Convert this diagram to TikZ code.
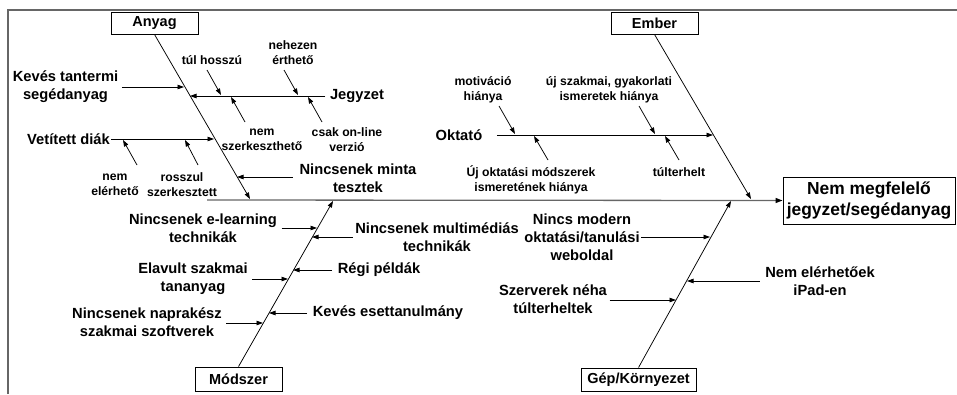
\documentclass[tikz,border=0pt]{standalone}
\usepackage{fontspec}
\setmainfont{Liberation Sans}
\usetikzlibrary{arrows.meta}
\tikzset{
  catbox/.style={draw=black, line width=0.9pt, fill=white, inner sep=0pt,
    font=\bfseries\fontsize{14.5}{17}\selectfont},
  effbox/.style={draw=black, line width=0.9pt, inner sep=0pt, align=center,
    font=\bfseries\fontsize{17.4}{21}\selectfont},
  big/.style={align=center, inner sep=1.5pt, font=\bfseries\fontsize{14.7}{18}\selectfont},
  small/.style={align=center, inner sep=1pt, font=\bfseries\fontsize{12.2}{15}\selectfont},
  arr/.style={line width=0.75pt, -{Triangle[length=6.5pt,width=4.5pt]}},
  bone/.style={line width=0.75pt, -{Triangle[length=6.5pt,width=4.5pt]}},
  spine/.style={line width=1.3pt, draw=black!60, -{Triangle[length=7pt,width=5pt,color=black]}},
  framel/.style={line width=1.8pt, draw=black!60}
}
\begin{document}
\begin{tikzpicture}[x=1pt,y=-1pt]
\useasboundingbox (0,0) rectangle (957,394);
% frame
\draw[framel] (8,394) -- (8,10) -- (957,10);

% category boxes
\node[catbox, minimum width=87pt, minimum height=22pt] (anyag) at (154.5,23) {Anyag};
\node[catbox, minimum width=87pt, minimum height=22pt] (ember) at (654.5,23) {Ember};
\node[catbox, minimum width=87pt, minimum height=24pt] (modszer) at (238.5,379) {Módszer};
\node[catbox, minimum width=115pt, minimum height=23pt] (gep) at (638.5,379.5) {Gép/Környezet};
\node[effbox, minimum width=172pt, minimum height=47pt] (eff) at (869,200.5) {Nem megfelelő\\jegyzet/segédanyag};

% spine
\coordinate (s0) at (207,200);
\draw[spine] (s0) -- (eff.west);

% bone ends on spine
\coordinate (A0) at (250,199);
\coordinate (E0) at (751,199);
\coordinate (M0) at (333,201);
\coordinate (G0) at (731,201);
\draw[bone] (anyag.south) -- (A0);
\draw[bone] (ember.south) -- (E0);
\draw[bone] (modszer.north) -- (M0);
\draw[bone] (gep.north) -- (G0);

% ---------- Anyag ----------
\coordinate (a1) at (184,87);
\coordinate (a2) at (190,96);
\coordinate (a3) at (214,139);
\coordinate (a4) at (237,177);
\node[big] (kev) at (65.5,87) {Kevés tantermi\\segédanyag};
\draw[arr, shorten <=2pt] (kev) -- (a1);
\node[big] (jegy) at (357,96) {Jegyzet};
\draw[arr, shorten <=3pt] (jegy) -- (a2);
\node[big] (vet) at (68.5,139) {Vetített diák};
\draw[arr] (vet) -- (a3);
\node[big] (nmt) at (358,178) {Nincsenek minta\\tesztek};
\draw[arr, shorten <=5pt] (nmt.west |- a4) -- (a4);

% Jegyzet sub-causes
\node[small] (tulh) at (212,60) {túl hosszú};
\node[small] (nehez) at (293,52.5) {nehezen\\érthető};
\node[small] (nemsz) at (262,139.5) {nem\\szerkeszthető};
\node[small] (csak) at (347,139.5) {csak on-line\\verzió};
\coordinate (j1s) at (207,70);   \coordinate (j1) at (221,95);
\coordinate (j2s) at (284,70);   \coordinate (j2) at (298,95);
\coordinate (j3s) at (245,122);  \coordinate (j3) at (231,97);
\coordinate (j4s) at (322,122);  \coordinate (j4) at (308,97);
\draw[arr] (j1s) -- (j1);
\draw[arr] (j2s) -- (j2);
\draw[arr] (j3s) -- (j3);
\draw[arr] (j4s) -- (j4);

% Vetített diák sub-causes
\node[small] (nemel) at (115,184.5) {nem\\elérhető};
\node[small] (rossz) at (182,184.5) {rosszul\\szerkesztett};
\coordinate (v1s) at (137,165);  \coordinate (v1) at (123,140);
\coordinate (v2s) at (198,165);  \coordinate (v2) at (185,140);
\draw[arr] (v1s) -- (v1);
\draw[arr] (v2s) -- (v2);

% ---------- Ember ----------
\coordinate (e1) at (713,135);
\node[big] (okt) at (459,135) {Oktató};
\draw[arr, shorten <=13pt] (okt) -- (e1);
\node[small] (motiv) at (483,90) {motiváció\\hiánya};
\node[small] (ujsz) at (609,90) {új szakmai, gyakorlati\\ismeretek hiánya};
\node[small] (ujokt) at (531,179.5) {Új oktatási módszerek\\ismeretének hiánya};
\node[small] (tulter) at (679,172) {túlterhelt};
\coordinate (o1s) at (499,106);  \coordinate (o1) at (515,134);
\coordinate (o2s) at (639,106);  \coordinate (o2) at (655,134);
\coordinate (o3s) at (548,160);  \coordinate (o3) at (534,136);
\coordinate (o4s) at (679,160);  \coordinate (o4) at (665,136);
\draw[arr] (o1s) -- (o1);
\draw[arr] (o2s) -- (o2);
\draw[arr] (o3s) -- (o3);
\draw[arr] (o4s) -- (o4);

% ---------- Módszer ----------
\coordinate (m1) at (317,228);
\coordinate (m2) at (312,237);
\coordinate (m3) at (288,279);
\coordinate (m4) at (293,270);
\coordinate (m5) at (269,313);
\coordinate (m6) at (263,323);
\node[big] (elearn) at (203,228) {Nincsenek e-learning\\technikák};
\draw[arr, shorten <=3pt] (elearn) -- (m1);
\node[big] (multi) at (437,237) {Nincsenek multimédiás\\technikák};
\draw[arr, shorten <=1pt] (multi.west |- m2) -- (m2);
\node[big] (elav) at (193,279) {Elavult szakmai\\tananyag};
\draw[arr, shorten <=3pt] (elav) -- (m3);
\node[big] (regi) at (379,270) {Régi példák};
\draw[arr, shorten <=4pt] (regi) -- (m4);
\node[big] (keves) at (388,313) {Kevés esettanulmány};
\draw[arr, shorten <=4pt] (keves) -- (m5);
\node[big] (napra) at (147,322.5) {Nincsenek naprakész\\szakmai szoftverek};
\draw[arr, shorten <=3pt] (napra.east |- m6) -- (m6);

% ---------- Gép/Környezet ----------
\coordinate (g1) at (710,237);
\coordinate (g2) at (687,281);
\coordinate (g3) at (676,300);
\node[big] (nincsm) at (582,237) {Nincs modern\\oktatási/tanulási\\weboldal};
\draw[arr] (nincsm) -- (g1);
\node[big] (ipad) at (820,281.5) {Nem elérhetőek\\iPad-en};
\draw[arr, shorten <=4pt] (ipad.west |- g2) -- (g2);
\node[big] (szerv) at (553,299) {Szerverek néha\\túlterheltek};
\draw[arr, shorten <=1pt] (szerv.east |- g3) -- (g3);
\end{tikzpicture}
\end{document}
